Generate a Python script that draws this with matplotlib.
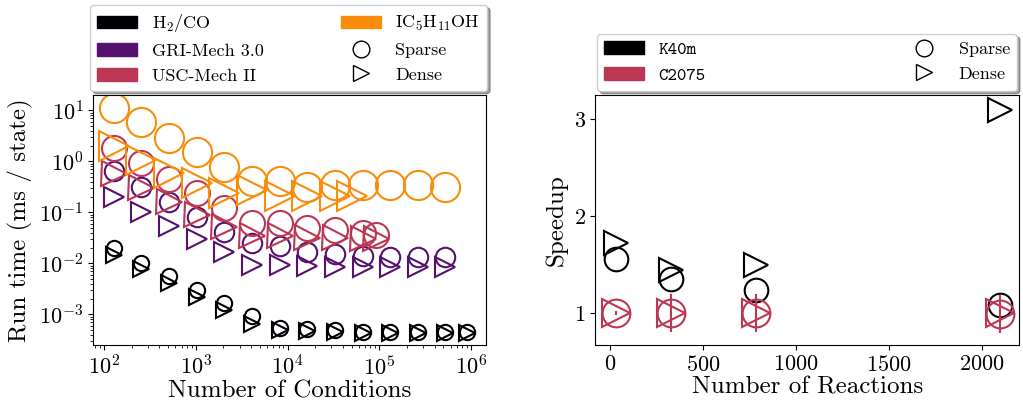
import matplotlib
matplotlib.use('Agg')
import matplotlib.pyplot as plt
import matplotlib.patches as mpatches
from matplotlib.lines import Line2D

plt.rcParams['font.family'] = 'cmr10'
plt.rcParams['mathtext.fontset'] = 'cm'
plt.rcParams['axes.unicode_minus'] = False
plt.rcParams['axes.formatter.use_mathtext'] = True

# ---- left panel data: run time per state vs number of conditions ----
conds = [2**n for n in range(7, 20)] + [900000]

h2_sparse = [0.0204, 0.0104, 0.0056, 0.0030, 0.00165, 0.00091, 0.00053,
             0.00051, 0.00049, 0.00046, 0.00045, 0.00045, 0.00045, 0.00045]
h2_dense = [0.0145, 0.0076, 0.0041, 0.0022, 0.0012, 0.00066, 0.00050,
            0.00048, 0.00046, 0.00044, 0.00044, 0.00044, 0.00043, 0.00043]

gri_sparse = [0.64, 0.31, 0.16, 0.08, 0.041, 0.025, 0.022, 0.017, 0.015,
              0.014, 0.0135, 0.0135, 0.0135]
gri_dense = [0.20, 0.10, 0.053, 0.030, 0.0166, 0.0095, 0.0092, 0.0088,
             0.0085, 0.0086, 0.0085, 0.0085, 0.0085]

usc_conds = conds[:10] + [92000]
usc_sparse = [1.8, 0.91, 0.46, 0.24, 0.12, 0.063, 0.063, 0.049, 0.045,
              0.039, 0.036]
usc_dense = [0.57, 0.30, 0.16, 0.088, 0.051, 0.035, 0.035, 0.031, 0.031,
             0.030, 0.030]

ic5_sparse = [11.0, 5.8, 2.9, 1.5, 0.77, 0.42, 0.42, 0.31, 0.34, 0.34,
              0.34, 0.34, 0.32]
ic5_conds_dense = conds[:9] + [50000]
ic5_dense = [2.05, 1.05, 0.60, 0.37, 0.24, 0.27, 0.21, 0.21, 0.21, 0.21]

# ---- right panel data: speedup vs number of reactions ----
reactions = [29, 325, 784, 2100]
k40_sparse = [1.56, 1.35, 1.24, 1.08]
k40_dense = [1.72, 1.44, 1.50, 3.10]
c2075_sparse = [1.0, 1.0, 1.0, 0.99]
c2075_sparse_err = [0.02, 0.2, 0.2, 0.2]
c2075_dense = [1.0, 1.0, 1.0, 1.0]

c_h2 = '#000004'
c_gri = '#56106e'
c_usc = '#bb3754'
c_ic5 = '#f98c0a'

fig = plt.figure(figsize=(10.23, 4.03), dpi=100)
ax1 = fig.add_axes([0.091, 0.144, 0.384, 0.620])
ax2 = fig.add_axes([0.582, 0.144, 0.414, 0.620])

mew = 1.5
# left panel
series = [
    (conds, h2_sparse, conds, h2_dense, c_h2, 11),
    (conds[:13], gri_sparse, conds[:13], gri_dense, c_gri, 14),
    (usc_conds, usc_sparse, usc_conds, usc_dense, c_usc, 18),
    (conds[:13], ic5_sparse, ic5_conds_dense, ic5_dense, c_ic5, 21),
]
for xs, ys, xd, yd, col, ms in series:
    ax1.plot(xs, ys, linestyle='none', marker='o', ms=ms, mfc='none',
             mec=col, mew=mew)
    ax1.plot(xd, yd, linestyle='none', marker='>', ms=ms, mfc='none',
             mec=col, mew=mew)

ax1.set_xscale('log')
ax1.set_yscale('log')
ax1.set_xlim(76, 1.45e6)
ax1.set_ylim(10**-3.6, 10**1.3)
ax1.set_xlabel('Number of Conditions', fontsize=18, labelpad=1)
ax1.set_ylabel('Run time (ms / state)', fontsize=18)
ax1.tick_params(labelsize=16)

h_left = [mpatches.Patch(color=c_h2, label=r'H$_2$/CO'),
          mpatches.Patch(color=c_gri, label='GRI-Mech 3.0'),
          mpatches.Patch(color=c_usc, label='USC-Mech II'),
          mpatches.Patch(color=c_ic5, label=r'IC$_5$H$_{11}$OH'),
          Line2D([], [], ls='none', marker='o', ms=12, mfc='none', mec='k',
                 label='Sparse'),
          Line2D([], [], ls='none', marker='>', ms=12, mfc='none', mec='k',
                 label='Dense')]
ax1.legend(handles=h_left, ncol=2, loc='lower left',
           bbox_to_anchor=(-0.012, 1.01, 1.02, 0.3), mode='expand',
           fontsize=13, shadow=True, fancybox=True, borderaxespad=0.1,
           handlelength=2.2)

# right panel
ax2.plot(reactions, k40_sparse, ls='none', marker='o', ms=17, mfc='none',
         mec='k', mew=mew)
ax2.plot(reactions, k40_dense, ls='none', marker='>', ms=17, mfc='none',
         mec='k', mew=mew)
ax2.errorbar(reactions, c2075_sparse, yerr=c2075_sparse_err, ls='none',
             marker='o', ms=20, mfc='none', mec=c_usc, mew=mew,
             ecolor=c_usc, elinewidth=1.5)
ax2.plot(reactions, c2075_dense, ls='none', marker='>', ms=20, mfc='none',
         mec=c_usc, mew=mew)
ax2.set_xlim(-80, 2200)
ax2.set_ylim(0.67, 3.25)
ax2.set_xticks([0, 500, 1000, 1500, 2000])
ax2.set_yticks([1, 2, 3])
ax2.set_xlabel('Number of Reactions', fontsize=18, labelpad=1)
ax2.set_ylabel('Speedup', fontsize=18)
ax2.tick_params(labelsize=16)

h_right = [mpatches.Patch(color='k', label='K40m'),
           mpatches.Patch(color=c_usc, label='C2075'),
           Line2D([], [], ls='none', marker='o', ms=12, mfc='none', mec='k',
                  label='Sparse'),
           Line2D([], [], ls='none', marker='>', ms=12, mfc='none', mec='k',
                  label='Dense')]
leg2 = ax2.legend(handles=h_right, ncol=2, loc='lower left',
                  bbox_to_anchor=(0, 1.01, 1.0, 0.2), mode='expand',
                  fontsize=13, shadow=True, fancybox=True, borderaxespad=0.1,
                  handlelength=2.2)
for t in leg2.get_texts()[:2]:
    t.set_fontfamily('cmtt10')

fig.savefig('out.png', dpi=100)
